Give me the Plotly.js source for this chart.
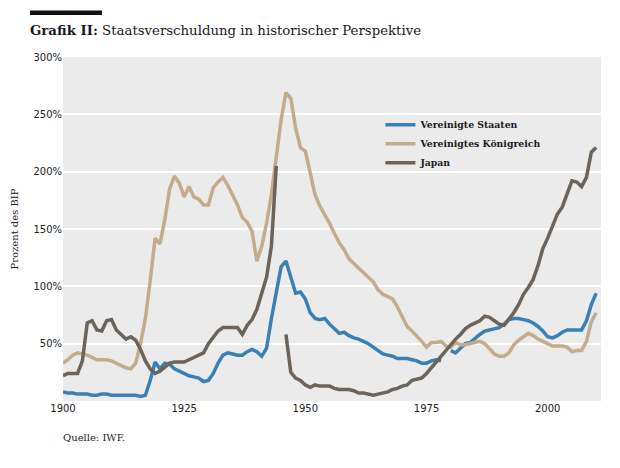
<!DOCTYPE html>
<html>
<head>
<meta charset="utf-8">
<script src="https://cdn.plot.ly/plotly-3.0.1.min.js"></script>
<style>
  html, body { margin: 0; padding: 0; background: #ffffff; }
  #chart { width: 620px; height: 468px; }
</style>
</head>
<body>
<div id="chart"></div>
<script>
// Jahre 1900 bis 2010
var years = [];
for (var y = 1900; y <= 2010; y++) years.push(y);

// Staatsschulden in Prozent des BIP
var usa = [
     8,   7,   7,   6,   6,   6,   5,   5,   6,   6,   // 1900
     5,   5,   5,   5,   5,   5,   4,   5,  18,  34,   // 1910
    28,  33,  32,  28,  26,  24,  22,  21,  20,  17,   // 1920
    18,  24,  33,  40,  42,  41,  40,  40,  43,  45,   // 1930
    43,  39,  46,  72,  96, 117, 122, 108,  94,  95,   // 1940
    89,  77,  72,  71,  72,  67,  63,  59,  60,  57,   // 1950
    55,  54,  52,  50,  47,  44,  41,  40,  39,  37,   // 1960
    37,  37,  36,  35,  33,  33,  35,  36,  35, null,  // 1970
    44,  42,  46,  50,  51,  55,  58,  61,  62,  63,   // 1980
    64,  67,  71,  72,  72,  71,  70,  68,  65,  61,   // 1990
    56,  55,  57,  60,  62,  62,  62,  62,  70,  84,   // 2000
    94
];

var uk = [
    33,  36,  40,  42,  41,  40,  38,  36,  36,  36,    // 1900
    35,  33,  31,  29,  28,  33,  50,  72, 105, 142,    // 1910
   137, 158, 185, 196, 190, 178, 187, 178, 176, 171,    // 1920
   171, 186, 191, 195, 188, 180, 171, 160, 156, 148,    // 1930
   122, 135, 155, 180, 213, 245, 269, 264, 238, 221,    // 1940
   218, 199, 180, 170, 163, 155, 146, 138, 132, 124,    // 1950
   120, 116, 112, 109, 104,  97,  93,  91,  89,  82,    // 1960
    73,  65,  61,  57,  52,  47,  51,  51,  52,  48,    // 1970
    47,  51,  49,  49,  50,  51,  52,  50,  46,  41,    // 1980
    39,  39,  42,  49,  53,  56,  59,  57,  54,  52,    // 1990
    50,  48,  48,  48,  47,  43,  44,  44,  52,  69,    // 2000
    77
];

var japan = [
    22,  24,  24,  24,  35,  68,  70,  62,  61,  70,    // 1900
    71,  62,  58,  54,  56,  53,  45,  35,  28,  24,    // 1910
    26,  30,  33,  34,  34,  34,  36,  38,  40,  42,    // 1920
    50,  56,  61,  64,  64,  64,  64,  58,  66,  71,    // 1930
    80,  94, 108, 135, 205, null, 58,  25,  20,  18,    // 1940
    14,  12,  14,  13,  13,  13,  11,  10,  10,  10,    // 1950
     9,   7,   7,   6,   5,   6,   7,   8,  10,  11,    // 1960
    13,  14,  18,  19,  20,  24,  29,  34,  39,  44,    // 1970
    50,  54,  58,  63,  66,  68,  70,  74,  73,  70,    // 1980
    67,  66,  71,  77,  84,  93,  99, 106, 118, 133,    // 1990
   142, 152, 163, 169, 180, 192, 191, 187, 195, 217,    // 2000
   221
];

var seriesNames = ['Vereinigte Staaten', 'Vereinigtes K\u00f6nigreich', 'Japan'];
var seriesColors = ['#3b80b4', '#c4ab8b', '#6c635a'];
var xTicks = [1900, 1925, 1950, 1975, 2000];
var yTicks = [50, 100, 150, 200, 250, 300];

var serif = '"DejaVu Serif", serif';
var sans = '"DejaVu Sans", sans-serif';

function makeTrace(vals, i) {
    return {
        type: 'scatter',
        mode: 'lines',
        name: seriesNames[i],
        x: years,
        y: vals,
        connectgaps: false,
        hoverinfo: 'x+y',
        line: { color: seriesColors[i], width: 3.5 }
    };
}

var data = [
    makeTrace(usa, 0),
    makeTrace(uk, 1),
    makeTrace(japan, 2)
];

var layout = {
    width: 620,
    height: 468,
    paper_bgcolor: '#ffffff',
    plot_bgcolor: '#ebebeb',
    margin: { l: 63, r: 19, t: 57, b: 67 },
    showlegend: true,
    title: {
        text: '<b>Grafik II:</b> Staatsverschuldung in historischer Perspektive',
        font: { family: serif, size: 13.3, color: '#1a1a1a' },
        xref: 'container',
        yref: 'container',
        x: 30 / 620,
        xanchor: 'left',
        y: 1 - 30 / 468,
        yanchor: 'middle'
    },
    legend: {
        x: 0.59,
        y: 0.845,
        xanchor: 'left',
        yanchor: 'top',
        bgcolor: 'rgba(0,0,0,0)',
        font: { family: serif, size: 9.3, color: '#1a1a1a', weight: 'bold' },
        tracegroupgap: 0,
        itemwidth: 30
    },
    xaxis: {
        range: [1900, 2011],
        tickvals: xTicks,
        ticktext: xTicks.map(String),
        showgrid: false,
        zeroline: false,
        showline: false,
        ticks: '',
        tickfont: { family: sans, size: 10, color: '#222222' }
    },
    yaxis: {
        range: [0, 300],
        tickvals: yTicks,
        ticktext: yTicks.map(function (v) { return v + '%'; }),
        showgrid: true,
        gridcolor: '#ffffff',
        gridwidth: 2,
        zeroline: false,
        showline: false,
        ticks: '',
        tickfont: { family: sans, size: 10, color: '#222222' },
        title: {
            text: 'Prozent des BIP',
            font: { family: serif, size: 10, color: '#222222' },
            standoff: 12
        }
    },
    shapes: [
        {
            type: 'rect',
            xref: 'paper',
            yref: 'paper',
            x0: (30 - 63) / 538,
            x1: (102 - 63) / 538,
            y0: (401 - 15) / 344,
            y1: (401 - 10.5) / 344,
            fillcolor: '#111111',
            line: { width: 0 }
        }
    ],
    annotations: [
        {
            text: 'Quelle: IWF.',
            xref: 'paper',
            yref: 'paper',
            x: -0.004,
            y: (401 - 437) / 344,
            xanchor: 'left',
            yanchor: 'middle',
            showarrow: false,
            font: { family: serif, size: 10, color: '#222222' }
        }
    ]
};

var config = { staticPlot: true, responsive: false };

Plotly.newPlot(document.getElementById('chart'), data, layout, config);
</script>
</body>
</html>
